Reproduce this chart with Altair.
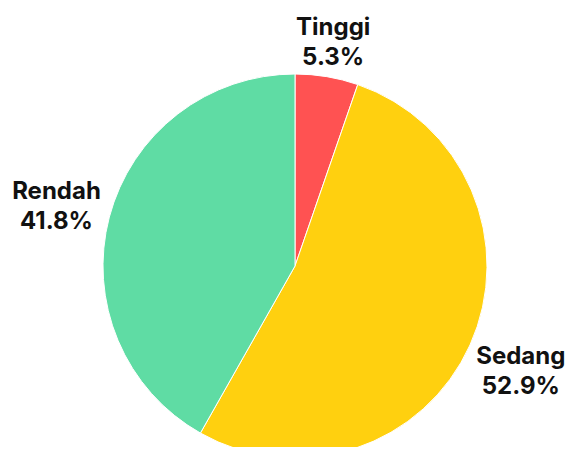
import altair as alt
import pandas as pd

categories = ["Tinggi", "Sedang", "Rendah"]
values = [5.3, 52.9, 41.8]
colors = ["#FF5252", "#FFD00F", "#5FDCA4"]

df = pd.DataFrame({"cat": categories, "pct": values, "ord": [0, 1, 2]})

CX, CY, R = 287, 258, 192
FS, LH = 24, 30

base = alt.Chart(df)

pie = base.mark_arc(outerRadius=R, stroke="white", strokeWidth=1).encode(
    theta=alt.Theta("pct:Q", stack=True),
    order=alt.Order("ord:Q"),
    color=alt.Color("cat:N", scale=alt.Scale(domain=categories, range=colors), legend=None),
    x=alt.value(CX), y=alt.value(CY),
)

labels = base.transform_window(
    cum="sum(pct)", sort=[alt.SortField("ord")]
).transform_joinaggregate(
    total="sum(pct)"
).transform_calculate(
    ang="(datum.cum - datum.pct / 2) / datum.total * 2 * PI",
    pstr="format(datum.pct, '.1f') + '%'",
    label="datum.cat + '\\n' + datum.pstr",
    hw=f"max(length(datum.cat), length(datum.pstr)) * {FS} * 0.55 / 2",
    rr=f"{R + 11} + datum.hw * abs(sin(datum.ang)) + {LH * 0.7} * abs(cos(datum.ang))",
    px=f"{CX} + datum.rr * sin(datum.ang)",
    py=f"{CY} - datum.rr * cos(datum.ang)",
).mark_text(
    font="Inter", fontWeight="bold", fontSize=FS, lineBreak="\n",
    lineHeight=LH, color="#111111", align="center", baseline="middle", dy=-LH / 2 + 4,
).encode(
    text="label:N",
    x=alt.X("px:Q", scale=None),
    y=alt.Y("py:Q", scale=None),
)

chart = (pie + labels).properties(
    width=567, height=439, autosize=alt.AutoSizeParams(type="none"), padding=0
).configure_view(stroke=None)

chart.save("out.html", embed_options={"renderer": "svg", "actions": False})
